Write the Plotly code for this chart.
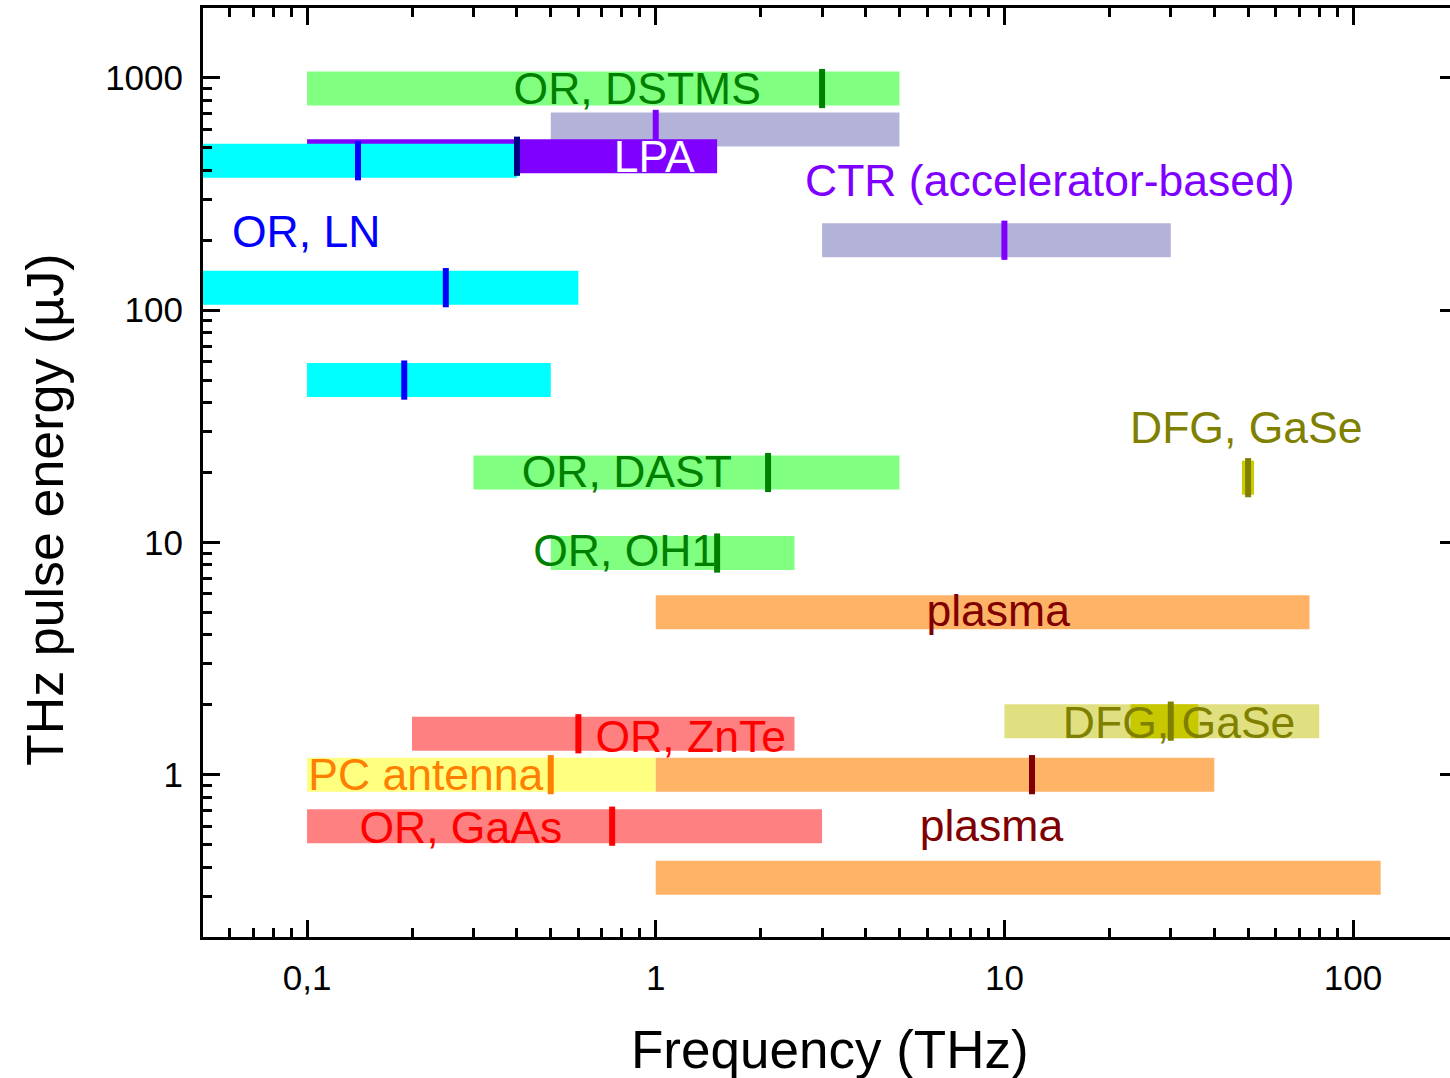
import numpy as np
import plotly.graph_objects as go

# ---- data: THz sources (frequency range, pulse energy, peak frequency) ----
src_names = ["OR, DSTMS", "CTR 1", "LPA", "OR, LN 1", "CTR 2", "OR, LN 2", "OR, LN 3",
             "OR, DAST", "OR, OH1", "plasma 1", "DFG, GaSe 1", "DFG, GaSe 1b", "OR, ZnTe",
             "PC antenna", "plasma 2", "OR, GaAs", "plasma 3", "DFG, GaSe 2"]
f_min = [0.1, 0.5, 0.1, 0.05, 3, 0.05, 0.1, 0.3, 0.5, 1, 10, 23, 0.2, 0.1, 1, 0.1, 1, 48]
f_max = [5, 5, 1.5, 0.4, 30, 0.6, 0.5, 5, 2.5, 75, 80, 36, 2.5, 1, 40, 3, 120, 52]
energy = [900, 600, 460, 440, 200, 125, 50, 20, 9, 5, 1.7, 1.7, 1.5, 1.0, 1.0, 0.6, 0.36, 19]
f_peak = [3, 1, 0.4, 0.14, 10, 0.25, 0.19, 2.1, 1.5, None, 30, None, 0.6, 0.5, 12, 0.75, None, 50]
bar_colors = ["#80ff80", "#b3b3d9", "#8000ff", "#00ffff", "#b3b3d9", "#00ffff", "#00ffff",
              "#80ff80", "#80ff80", "#ffb366", "#e0e080", "#c8c800", "#ff8080",
              "#ffff80", "#ffb366", "#ff8080", "#ffb366", "#cccc00"]
peak_colors = ["#008000", "#8000ff", "#000080", "#0000ff", "#8000ff", "#0000ff", "#0000ff",
               "#008000", "#008000", None, "#808000", None, "#ff0000",
               "#ff8000", "#800000", "#ff0000", None, "#808000"]

# ---- text labels ----
label_text = ["OR, DSTMS", "LPA", "CTR (accelerator-based)", "OR, LN", "DFG, GaSe",
              "OR, DAST", "OR, OH1", "plasma", "DFG, GaSe", "OR, ZnTe", "PC antenna",
              "OR, GaAs", "plasma"]
label_f = [0.885, 0.99, 13.5, 0.0994, 49.4, 0.826, 0.815, 9.6, 31.7, 1.26, 0.219, 0.276, 9.18]
label_e = [865, 440, 347, 209, 30.0, 19.4, 8.85, 4.88, 1.61, 1.40, 0.955, 0.568, 0.58]
label_colors = ["#008000", "#ffffff", "#8000ff", "#0000ff", "#808000", "#008000", "#008000",
                "#800000", "#808000", "#ff0000", "#ff8000", "#ff0000", "#800000"]

x_tickvals = [0.1, 1, 10, 100]
x_ticktext = ["0,1", "1", "10", "100"]
y_tickvals = [1, 10, 100, 1000]
y_ticktext = ["1", "10", "100", "1000"]

FONT = "Liberation Sans, Arial, sans-serif"
BAR_W = 34
X_RANGE = [np.log10(0.0503), 2.278]
Y_RANGE = [np.log10(0.2), 3.301]

fig = go.Figure()

# bars
for i in range(len(src_names)):
    fig.add_trace(go.Scatter(
        x=[f_min[i], f_max[i]], y=[energy[i], energy[i]], mode="lines",
        line=dict(color=bar_colors[i], width=BAR_W), hoverinfo="skip", showlegend=False))

# peak markers
for i in range(len(src_names)):
    if f_peak[i] is None:
        continue
    fig.add_trace(go.Scatter(
        x=[f_peak[i]], y=[energy[i]], mode="markers",
        marker=dict(symbol="line-ns", size=BAR_W - 6,
                    line=dict(color=peak_colors[i], width=6)),
        hoverinfo="skip", showlegend=False))

# labels
fig.add_trace(go.Scatter(
    x=label_f, y=label_e, mode="text", text=label_text, textposition="middle center",
    textfont=dict(family=FONT, size=44.5, color=label_colors),
    hoverinfo="skip", showlegend=False))

# invisible trace to carry the right-hand tick axis
fig.add_trace(go.Scatter(x=[1], y=[1], yaxis="y2", mode="markers",
                         marker=dict(opacity=0), hoverinfo="skip", showlegend=False))

def minor_vals(lo_exp, hi_exp):
    vals = []
    for e in range(lo_exp, hi_exp + 1):
        for d in range(2, 10):
            vals.append(d * 10.0 ** e)
    return vals

tick_style = dict(ticks="inside", ticklen=17, tickwidth=3, tickcolor="black",
                  showgrid=False, zeroline=False)

fig.update_layout(
    width=1450, height=1078,
    margin=dict(l=203, r=0, t=8, b=141),
    plot_bgcolor="white", paper_bgcolor="white",
    xaxis=dict(tick_style, type="log", range=X_RANGE,
               showline=True, linewidth=3, linecolor="black", mirror="ticks",
               tickvals=x_tickvals, ticktext=x_ticktext, ticklabelstandoff=8,
               tickfont=dict(family=FONT, size=35, color="black"),
               minor=dict(ticks="inside", ticklen=9, tickwidth=3, tickcolor="black",
                          tickvals=minor_vals(-2, 2), showgrid=False)),
    yaxis=dict(tick_style, type="log", range=Y_RANGE,
               showline=True, linewidth=3, linecolor="black", mirror=False,
               tickvals=y_tickvals, ticktext=y_ticktext, ticklabelstandoff=10,
               tickfont=dict(family=FONT, size=35, color="black"),
               minor=dict(ticks="inside", ticklen=9, tickwidth=3, tickcolor="black",
                          tickvals=minor_vals(-1, 3), showgrid=False)),
    yaxis2=dict(type="log", range=Y_RANGE, overlaying="y", side="right",
                showline=False, ticks="inside", ticklen=10, tickwidth=3, tickcolor="black",
                tickvals=y_tickvals, showticklabels=False, showgrid=False, zeroline=False),
    annotations=[
        dict(text="Frequency (THz)", xref="paper", yref="paper", x=0.503, y=-0.1216,
             xanchor="center", yanchor="middle", showarrow=False,
             font=dict(family=FONT, size=53, color="black")),
        dict(text="THz pulse energy (µJ)", xref="paper", yref="paper", x=-0.1267, y=0.4596,
             xanchor="center", yanchor="middle", showarrow=False, textangle=-90,
             font=dict(family=FONT, size=52, color="black")),
    ],
)

fig.write_html("out.html")
